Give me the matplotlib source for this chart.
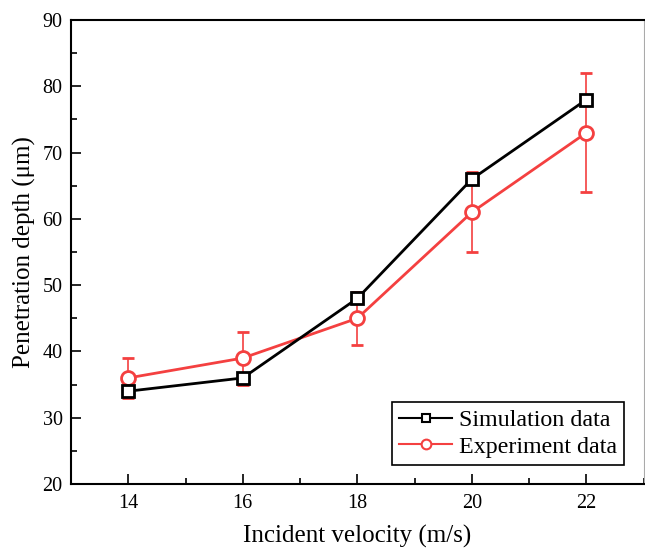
import numpy as np
from matplotlib import pyplot as plt
from matplotlib.lines import Line2D
from matplotlib.ticker import MultipleLocator

plt.rcParams['font.family'] = ['Liberation Serif', 'DejaVu Serif']

# data
velocity = [14, 16, 18, 20, 22]
simulation = [34, 36, 48, 66, 78]
experiment = [36, 39, 45, 61, 73]
experiment_err = [3, 4, 4, 6, 9]

red = '#f44040'

fig = plt.figure(figsize=(6.45, 5.5), dpi=100)
ax = fig.add_axes([0.110, 0.12, 0.888, 0.8436])

ax.errorbar(velocity, experiment, yerr=experiment_err, color=red, lw=2,
            marker='o', ms=10, mfc='white', mec=red, mew=2,
            ecolor=red, elinewidth=1.2, capsize=4, capthick=1.2, zorder=2)
ax.plot(velocity, simulation, color='black', lw=2, marker='s', ms=8,
        mfc='white', mec='black', mew=2, zorder=3)

ax.set_xlim(13, 23)
ax.set_ylim(20, 90)
ax.xaxis.set_major_locator(MultipleLocator(2))
ax.xaxis.set_minor_locator(MultipleLocator(1))
ax.yaxis.set_major_locator(MultipleLocator(10))
ax.yaxis.set_minor_locator(MultipleLocator(5))
ax.tick_params(which='both', direction='in', labelsize=14.5, width=1.2)
ax.tick_params(which='major', length=7)
ax.tick_params(which='minor', length=4)
ax.tick_params(axis='x', pad=7)
ax.tick_params(axis='y', pad=6)
for s in ax.spines.values():
    s.set_linewidth(1.5)
ax.spines['right'].set_color('#aaaaaa')
ax.spines['right'].set_linewidth(0.8)

ax.set_xlabel('Incident velocity (m/s)', fontsize=18, labelpad=9)
ax.set_ylabel('Penetration depth (μm)', fontsize=18, labelpad=5)

# legend handles without the error bars, like the original
handles = [
    Line2D([], [], color='black', lw=1.5, marker='s', ms=6, mfc='white', mec='black', mew=1.5),
    Line2D([], [], color=red, lw=1.5, marker='o', ms=7, mfc='white', mec=red, mew=1.5),
]
labels = ['Simulation data', 'Experiment data']
leg = ax.legend(handles, labels, loc='lower right', fontsize=17.3,
                fancybox=False, edgecolor='black', framealpha=1,
                borderaxespad=0.8, handlelength=2.2, handletextpad=0.3,
                borderpad=0.3, labelspacing=0.2)
leg.get_frame().set_linewidth(1.2)

fig.savefig('out.png', dpi=100)
